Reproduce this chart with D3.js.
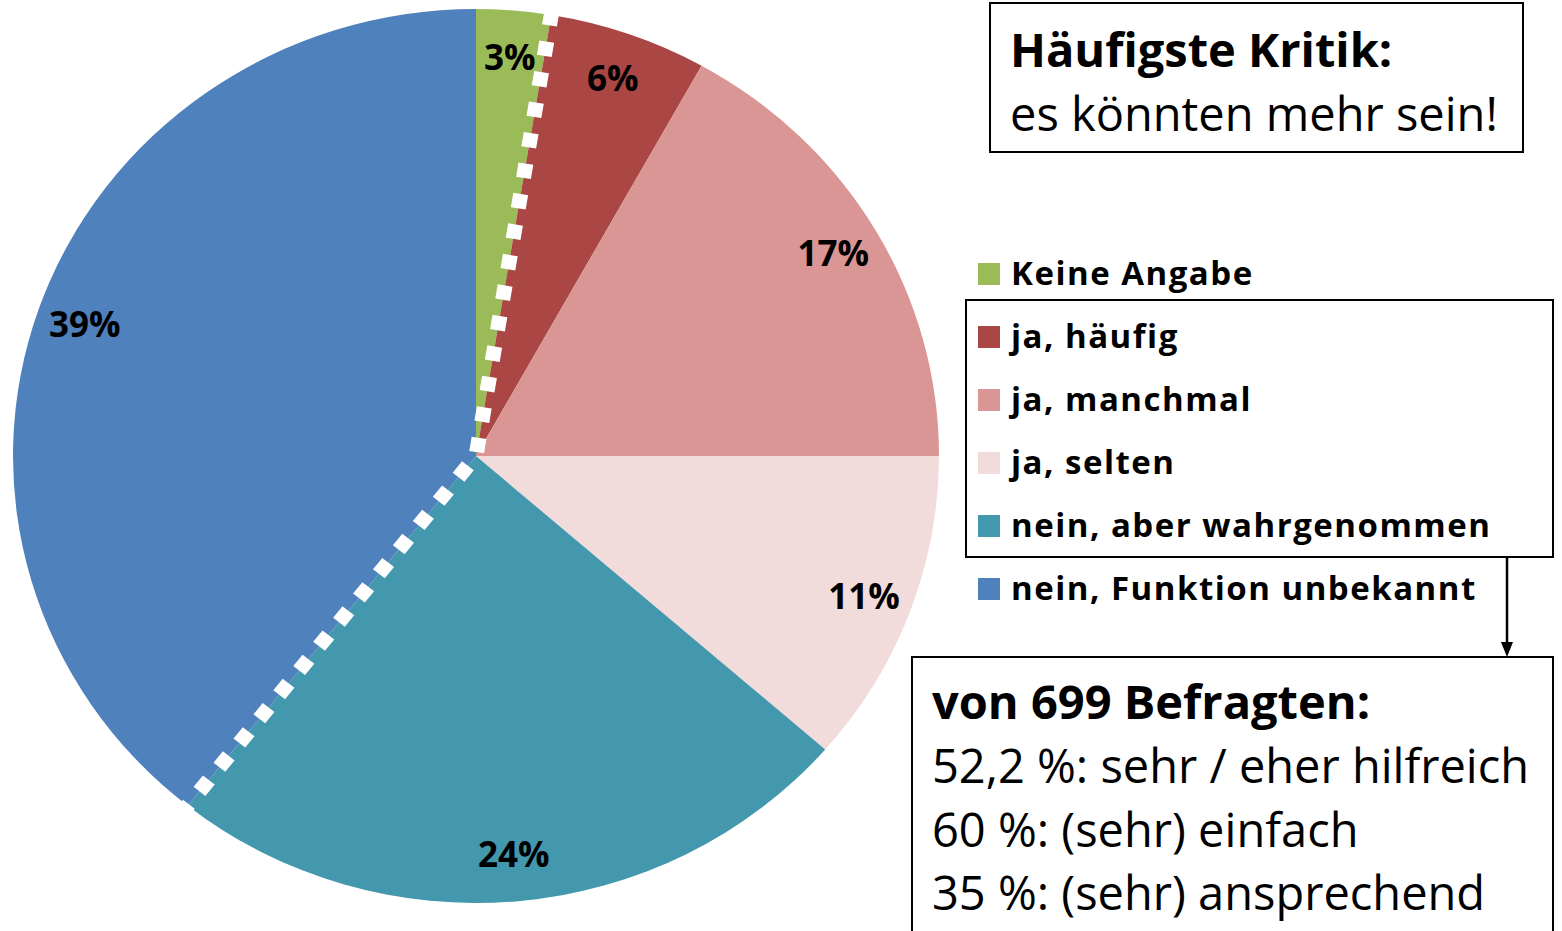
<!DOCTYPE html>
<html>
<head>
<meta charset="utf-8">
<script src="https://cdn.jsdelivr.net/npm/d3@7"></script>
<style>
  body { margin: 0; background: #fff; }
  text { font-family: "Open Sans", Lato, sans-serif; fill: #000; }
</style>
</head>
<body>
<script>
const width = 1562, height = 931;

// pie data (clockwise from 12 o'clock)
const categories = ["Keine Angabe", "ja, häufig", "ja, manchmal", "ja, selten",
  "nein, aber wahrgenommen", "nein, Funktion unbekannt"];
const shares = [2.6, 5.5, 16.9, 11.4, 24.3, 39.3];
const colors = ["#9BBB59", "#AA4643", "#DA9694", "#F2DCDB", "#4398AE", "#4F81BD"];

// text boxes
const critTitle = "Häufigste Kritik:";
const critText = "es könnten mehr sein!";
const respTitle = "von 699 Befragten:";
const respLines = ["52,2 %: sehr / eher hilfreich", "60 %: (sehr) einfach", "35 %: (sehr) ansprechend"];

const cx = 476, cy = 456;
const rx = 463, ry = 447;

const svg = d3.select("body").append("svg")
  .attr("width", width)
  .attr("height", height);

// pie is slightly wider than tall in the picture -> draw a circle and squash it
const pieG = svg.append("g")
  .attr("transform", "translate(" + cx + "," + cy + ") scale(1," + (ry / rx) + ")");

const pie = d3.pie().sort(null).value(d => d);
const arcs = pie(shares);
const arc = d3.arc().innerRadius(0).outerRadius(rx);

pieG.selectAll(".slice")
  .data(arcs)
  .enter()
    .append("path")
    .attr("class", "slice")
    .attr("d", arc)
    .attr("fill", (d, i) => colors[i]);

// white dotted line marking the "ja" group (between slice 0/1 and 4/5)
const a1 = arcs[0].endAngle, a2 = arcs[4].endAngle;
const ext = rx + 4;
pieG.append("path")
  .attr("d", "M" + (ext * Math.sin(a1)) + "," + (-ext * Math.cos(a1))
    + "L0,0"
    + "L" + (ext * Math.sin(a2)) + "," + (-ext * Math.cos(a2)))
  .attr("fill", "none")
  .attr("stroke", "#fff")
  .attr("stroke-width", 15)
  .attr("stroke-dasharray", "15,17");

// percent labels
const labelArc = d3.arc().innerRadius(rx * 0.895).outerRadius(rx * 0.895);
svg.append("g")
  .selectAll("text")
  .data(arcs)
  .enter()
    .append("text")
    .attr("x", d => cx + labelArc.centroid(d)[0])
    .attr("y", d => cy + labelArc.centroid(d)[1] * ry / rx)
    .attr("dy", "0.36em")
    .attr("text-anchor", "middle")
    .style("font-size", "35px")
    .style("font-weight", "bold")
    .text(d => Math.round(d.data) + "%");

// legend
const legend = svg.append("g");
const rowY = d3.scalePoint().domain(categories).range([285, 600]);
const rows = legend.selectAll(".row")
  .data(categories)
  .enter()
    .append("g")
    .attr("class", "row")
    .attr("transform", d => "translate(978," + rowY(d) + ")");
rows.append("rect")
  .attr("x", 0).attr("y", -22)
  .attr("width", 22).attr("height", 22)
  .attr("fill", (d, i) => colors[i]);
rows.append("text")
  .attr("x", 33)
  .style("font-size", "33px")
  .style("font-weight", "bold")
  .style("letter-spacing", "1.5px")
  .text(d => d);

// box around the "ja" / "wahrgenommen" entries
svg.append("rect")
  .attr("x", 966).attr("y", 300)
  .attr("width", 587).attr("height", 257)
  .attr("fill", "none").attr("stroke", "#000").attr("stroke-width", 2);

// arrow down to the result box
svg.append("line")
  .attr("x1", 1507).attr("y1", 557)
  .attr("x2", 1507).attr("y2", 645)
  .attr("stroke", "#000").attr("stroke-width", 2.5);
svg.append("path")
  .attr("d", "M1501,642L1513,642L1507,657Z")
  .attr("fill", "#000");

// critique box
svg.append("rect")
  .attr("x", 990).attr("y", 3)
  .attr("width", 533).attr("height", 149)
  .attr("fill", "#fff").attr("stroke", "#000").attr("stroke-width", 2);
svg.append("text")
  .attr("x", 1010).attr("y", 67)
  .style("font-size", "47px").style("font-weight", "bold")
  .text(critTitle);
svg.append("text")
  .attr("x", 1010).attr("y", 131)
  .style("font-size", "47px")
  .text(critText);

// respondents box (runs off the bottom)
svg.append("rect")
  .attr("x", 912).attr("y", 657)
  .attr("width", 641).attr("height", 300)
  .attr("fill", "#fff").attr("stroke", "#000").attr("stroke-width", 2);
svg.append("text")
  .attr("x", 932).attr("y", 719)
  .style("font-size", "47px").style("font-weight", "bold")
  .text(respTitle);
svg.append("g")
  .selectAll("text")
  .data(respLines)
  .enter()
    .append("text")
    .attr("x", 932)
    .attr("y", (d, i) => 783 + i * 63.5)
    .style("font-size", "47px")
    .text(d => d);
</script>
</body>
</html>
